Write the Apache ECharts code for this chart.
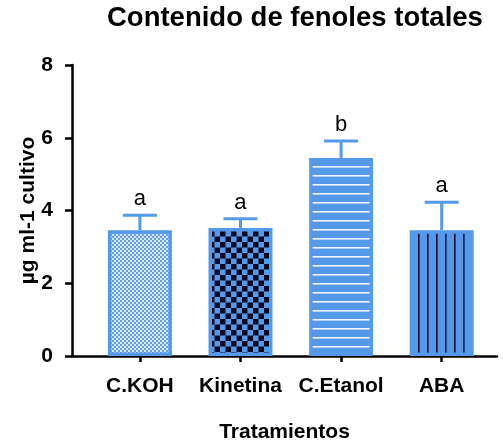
<!DOCTYPE html>
<html>
<head>
<meta charset="utf-8">
<script src="https://cdn.jsdelivr.net/npm/echarts@6/dist/echarts.min.js"></script>
<style>
  html, body { margin: 0; padding: 0; background: #ffffff; }
  #chart { width: 503px; height: 442px; }
</style>
</head>
<body>
<div id="chart"></div>
<script>
// Treatments, means, standard deviations and significance letters
const categories = ['C.KOH', 'Kinetina', 'C.Etanol', 'ABA'];
const means = [3.46, 3.52, 5.44, 3.46];
const sds = [0.41, 0.25, 0.47, 0.77];
const letters = ['a', 'a', 'b', 'a'];
const yTicks = [0, 2, 4, 6, 8];

const BLUE = '#5599ea';
const FONT = '"Liberation Sans", Arial, sans-serif';

// Fill patterns drawn on small canvases
function makePattern(w, h, draw) {
  const c = document.createElement('canvas');
  c.width = w; c.height = h;
  draw(c.getContext('2d'), w, h);
  return { image: c, repeat: 'repeat' };
}
const patterns = [
  // fine light checker
  makePattern(4, 4, (g) => {
    g.fillStyle = '#dbe9fb'; g.fillRect(0, 0, 4, 4);
    g.fillStyle = '#5f9eea'; g.fillRect(0, 0, 2, 2); g.fillRect(2, 2, 2, 2);
  }),
  // coarse black / blue checker
  makePattern(11, 11, (g) => {
    g.fillStyle = BLUE; g.fillRect(0, 0, 11, 11);
    g.fillStyle = '#0a0b22'; g.fillRect(0, 0, 5.5, 5.5); g.fillRect(5.5, 5.5, 5.5, 5.5);
  }),
  // horizontal white lines
  makePattern(8, 9, (g) => {
    g.fillStyle = BLUE; g.fillRect(0, 0, 8, 9);
    g.fillStyle = '#f2f7fe'; g.fillRect(0, 4, 8, 1.6);
  }),
  // vertical dark lines
  makePattern(9, 8, (g) => {
    g.fillStyle = BLUE; g.fillRect(0, 0, 9, 8);
    g.fillStyle = '#0d1030'; g.fillRect(4, 0, 1.6, 8);
  })
];

const barData = categories.map((c, i) => ({
  value: [i, means[i]],
  itemStyle: { color: patterns[i], borderColor: BLUE, borderWidth: 3.5 }
}));
const errData = categories.map((c, i) => [i, means[i], sds[i], i]);

const chart = echarts.init(document.getElementById('chart'), null, { renderer: 'canvas' });
chart.setOption({
  animation: false,
  backgroundColor: '#ffffff',
  title: {
    text: 'Contenido de fenoles totales',
    left: 107, top: 4, padding: 0,
    textStyle: { fontFamily: FONT, fontWeight: 'bold', fontSize: 27.5, color: '#000' }
  },
  grid: { left: 72, right: 6, top: 65, bottom: 86, containLabel: false, outerBoundsMode: 'none' },
  xAxis: {
    type: 'value',
    min: -0.675, max: 3.55,
    splitLine: { show: false },
    axisLine: { show: true, onZero: false, lineStyle: { color: '#000', width: 2.5 } },
    axisTick: { show: true, customValues: [0, 1, 2, 3], length: 6, lineStyle: { color: '#000', width: 2.5 } },
    axisLabel: {
      customValues: [0, 1, 2, 3],
      formatter: (v) => categories[Math.round(v)],
      margin: 20,
      fontFamily: FONT, fontWeight: 'bold', fontSize: 21, color: '#000'
    },
    name: 'Tratamientos',
    nameLocation: 'middle',
    nameGap: 66,
    nameTextStyle: { fontFamily: FONT, fontWeight: 'bold', fontSize: 21, color: '#000' }
  },
  yAxis: {
    type: 'value',
    min: yTicks[0], max: yTicks[yTicks.length - 1], interval: 2,
    splitLine: { show: false },
    axisLine: { show: true, onZero: false, lineStyle: { color: '#000', width: 2.5 } },
    axisTick: { show: true, length: 7, lineStyle: { color: '#000', width: 2.5 } },
    axisLabel: { margin: 19, fontFamily: FONT, fontWeight: 'bold', fontSize: 21, color: '#000' },
    name: 'µg ml-1 cultivo',
    nameLocation: 'middle',
    nameGap: 33,
    nameMoveOverlap: false,
    nameTextStyle: { fontFamily: FONT, fontWeight: 'bold', fontSize: 21, color: '#000' }
  },
  series: [
    {
      type: 'custom',
      z: 1,
      data: errData,
      renderItem: (params, api) => {
        const x = api.value(0), m = api.value(1), s = api.value(2);
        const idx = api.value(3);
        const base = api.coord([x, m]);
        const top = api.coord([x, m + s]);
        const half = 17;
        const st = { stroke: BLUE, lineWidth: 3 };
        return {
          type: 'group',
          children: [
            { type: 'line', shape: { x1: base[0], y1: base[1], x2: top[0], y2: top[1] }, style: st },
            { type: 'line', shape: { x1: top[0] - half, y1: top[1], x2: top[0] + half, y2: top[1] }, style: st },
            {
              type: 'text',
              style: {
                text: letters[idx], x: top[0], y: top[1] - 5,
                align: 'center', verticalAlign: 'bottom',
                font: '22px ' + FONT, fill: '#000'
              }
            }
          ]
        };
      }
    },
    {
      type: 'bar',
      z: 2,
      barWidth: 64,
      data: barData
    }
  ]
});
</script>
</body>
</html>
